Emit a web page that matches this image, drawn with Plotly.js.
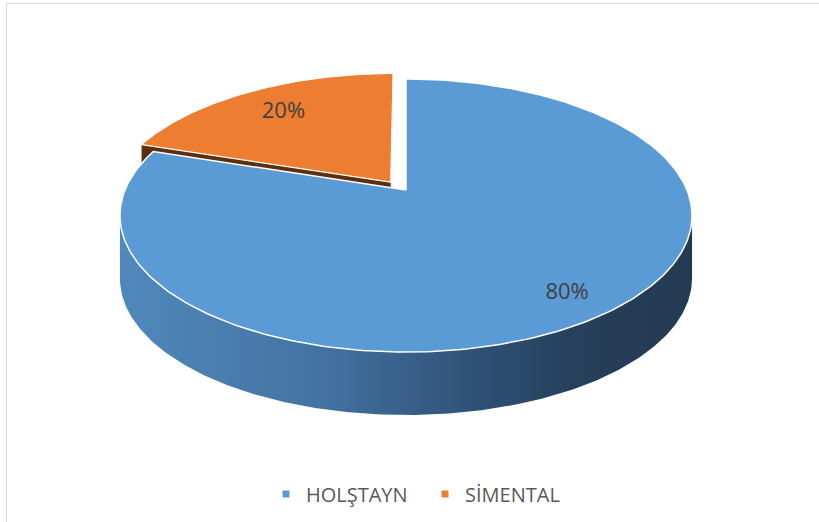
<!DOCTYPE html>
<html>
<head>
<meta charset="utf-8">
<script src="https://cdn.plot.ly/plotly-3.0.1.min.js"></script>
<style>html,body{margin:0;padding:0;background:#fff;}#chart{width:819px;height:522px;}</style>
</head>
<body>
<div id="chart"></div>
<script>
// ---- data ----
const categories = ['HOLŞTAYN', 'SİMENTAL'];
const values = [80, 20];
const colors = ['#5B9BD5', '#ED7D31'];

// ---- style / geometry (pseudo-3D projection) ----
const W = 819, H = 522;
const cx = 406, cy = 190, A = 281, B = 131.7, K = 0.187, DEPTH = 63;
const explode = [[0, 0], [-0.055, 0.06]];
const labelR = [0.85, 0.74];
const sideScale = [[0, '#5088bb'], [0.35, '#4373a2'], [0.6, '#31537a'], [0.8, '#263f5a'], [1, '#233a52']];
const radialFace = ['#2f4f72', '#5e2f0f'];
const FONT = '"Open Sans", "Noto Sans", sans-serif';

function proj(u, v, down) {
  const s = 1 + K * v;
  return [cx + A * u / s, cy - B * v / s + (down ? DEPTH : 0)];
}
const total = values.reduce((a, b) => a + b, 0);
const deg = Math.PI / 180;

// slice angle ranges (start at 12 o'clock, clockwise)
let cum = 0;
const slices = values.map((v, i) => {
  const a0 = 90 - 360 * cum / total;
  cum += v;
  const a1 = 90 - 360 * cum / total;
  return {a0, a1, i};
});

function arcPts(a0, a1, off, down, n) {
  const xs = [], ys = [];
  for (let j = 0; j <= n; j++) {
    const t = (a0 + (a1 - a0) * j / n) * deg;
    const p = proj(Math.cos(t) + off[0], Math.sin(t) + off[1], down);
    xs.push(p[0]); ys.push(p[1]);
  }
  return [xs, ys];
}

const traces = [];
const base = {type: 'scatter', mode: 'lines', hoverinfo: 'skip', showlegend: false, fill: 'toself'};

// radial (cut) faces of exploded slices, visible along the front edge
slices.forEach(s => {
  if (s.i === 0) return;
  const off = explode[s.i];
  const t = s.a0 * deg;
  const c = proj(off[0], off[1], false);
  const e = proj(Math.cos(t) + off[0], Math.sin(t) + off[1], false);
  const cd = proj(off[0], off[1], true);
  const ed = proj(Math.cos(t) + off[0], Math.sin(t) + off[1], true);
  traces.push(Object.assign({}, base, {
    x: [c[0], e[0], ed[0], cd[0], c[0]], y: [c[1], e[1], ed[1], cd[1], c[1]],
    fillcolor: radialFace[s.i], line: {width: 0}
  }));
});

// tops of exploded slices
slices.forEach(s => {
  if (s.i === 0) return;
  const off = explode[s.i];
  const [xs, ys] = arcPts(s.a0, s.a1, off, false, 120);
  const c = proj(off[0], off[1], false);
  traces.push(Object.assign({}, base, {
    x: [c[0]].concat(xs, [c[0]]), y: [c[1]].concat(ys, [c[1]]),
    fillcolor: colors[s.i], line: {color: '#ffffff', width: 1.2}
  }));
});

// side wall of the main slice (front arc between silhouette angles)
{
  const tl = 180 + Math.asin(K) / deg, tr = 360 - Math.asin(K) / deg;
  const [tx, ty] = arcPts(tl, tr, [0, 0], false, 200);
  const [bx, by] = arcPts(tr, tl, [0, 0], true, 200);
  traces.push(Object.assign({}, base, {
    x: tx.concat(bx, [tx[0]]), y: ty.concat(by, [ty[0]]),
    fillcolor: '#3a5f87',
    fillgradient: {type: 'horizontal', colorscale: sideScale},
    line: {width: 0}
  }));
}

// top of main slice
{
  const s = slices[0];
  const [xs, ys] = arcPts(s.a0, s.a1, explode[0], false, 300);
  const c = proj(0, 0, false);
  traces.push(Object.assign({}, base, {
    x: [c[0]].concat(xs, [c[0]]), y: [c[1]].concat(ys, [c[1]]),
    fillcolor: colors[0], line: {color: '#ffffff', width: 1.5}
  }));
}

// data labels
const lx = [], ly = [], lt = [];
slices.forEach(s => {
  const m = (s.a0 + s.a1) / 2 * deg;
  const off = explode[s.i];
  const r = labelR[s.i];
  const p = proj(r * Math.cos(m) + off[0], r * Math.sin(m) + off[1], false);
  lx.push(p[0]); ly.push(p[1]);
  lt.push(Math.round(values[s.i] / total * 100) + '%');
});
traces.push({type: 'scatter', mode: 'text', x: lx, y: ly, text: lt, hoverinfo: 'skip', showlegend: false,
  textfont: {family: FONT, size: 22, color: '#404040'}});

// legend entries
categories.forEach((c, i) => {
  traces.push({type: 'scatter', mode: 'markers', x: [null], y: [null], name: c,
    marker: {symbol: 'square', size: 7, color: colors[i]}, showlegend: true});
});

const layout = {
  width: W, height: H,
  margin: {l: 0, r: 0, t: 0, b: 0},
  paper_bgcolor: '#ffffff', plot_bgcolor: '#ffffff',
  xaxis: {range: [0, W], visible: false, fixedrange: true},
  yaxis: {range: [H, 0], visible: false, fixedrange: true},
  showlegend: true,
  legend: {orientation: 'h', x: 266 / W, xanchor: 'left', y: 1 - 494 / H, yanchor: 'middle',
    entrywidth: 114, font: {family: FONT, size: 20, color: '#595959'},
    bgcolor: 'rgba(0,0,0,0)'},
  shapes: [{type: 'rect', xref: 'x', yref: 'y', x0: 6.5, y0: 3.5, x1: 840, y1: 540,
    line: {color: '#d9d9d9', width: 1}, fillcolor: 'rgba(0,0,0,0)', layer: 'below'}]
};

Plotly.newPlot('chart', traces, layout, {staticPlot: true, displayModeBar: false});
</script>
</body>
</html>
